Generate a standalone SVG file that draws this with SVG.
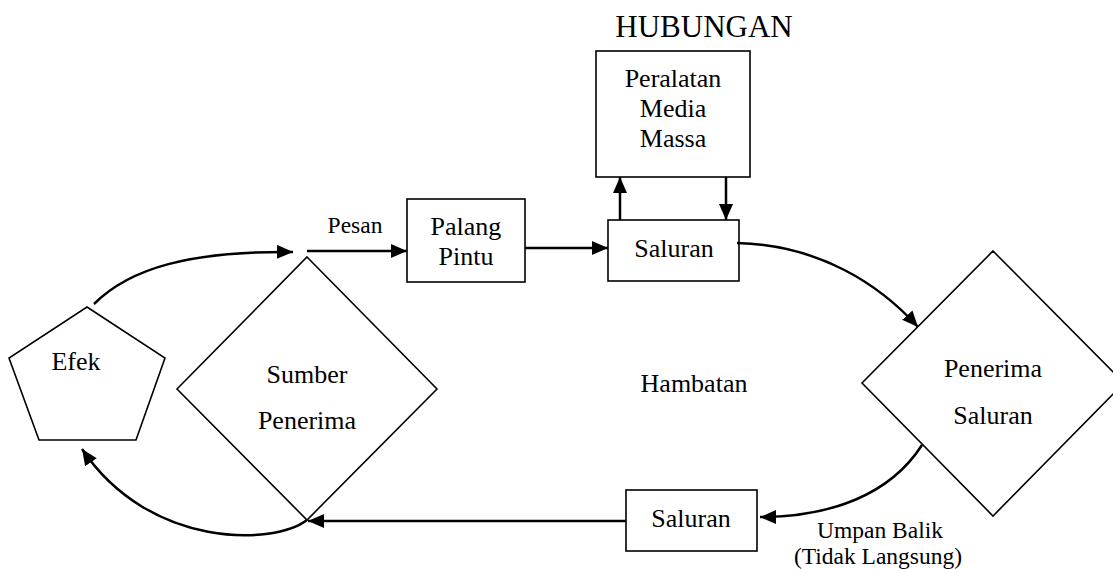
<svg xmlns="http://www.w3.org/2000/svg" width="1113" height="569" viewBox="0 0 1113 569">
<style>
.shape{fill:#fff;stroke:#000;stroke-width:1.6}
.conn{fill:none;stroke:#000;stroke-width:2.5}
text{font-family:"Liberation Serif","Times New Roman",serif;fill:#000;text-anchor:middle}
.t{font-size:26px}
.s{font-size:23.5px}
.h{font-size:31px}
</style>
<defs>
<marker id="arr" markerUnits="userSpaceOnUse" markerWidth="17" markerHeight="15" refX="16" refY="7" orient="auto">
<path d="M0,0 L16,7 L0,14 z" fill="#000"/>
</marker>
</defs>
<rect width="1113" height="569" fill="#fff"/>
<text class="h" x="704" y="37">HUBUNGAN</text>
<g id="efek">
<polygon class="shape" points="87,307 165,358 136,440 39,440 9,358"/>
<text class="t" x="76" y="370">Efek</text>
</g>
<g id="sumber">
<polygon class="shape" points="307,257 437,389 307,520 177,389"/>
<text class="t" x="307" y="383">Sumber</text>
<text class="t" x="307" y="429">Penerima</text>
</g>
<g id="palang">
<rect class="shape" x="407" y="199" width="118" height="83"/>
<text class="t" x="466" y="235">Palang</text>
<text class="t" x="466" y="265">Pintu</text>
</g>
<g id="peralatan">
<rect class="shape" x="596" y="51" width="154" height="126"/>
<text class="t" x="673" y="87">Peralatan</text>
<text class="t" x="673" y="117">Media</text>
<text class="t" x="673" y="147">Massa</text>
</g>
<g id="saluran1">
<rect class="shape" x="608" y="220" width="131" height="61"/>
<text class="t" x="674" y="257">Saluran</text>
</g>
<g id="penerima">
<polygon class="shape" points="993,251 1124,383 993,516 862,383"/>
<text class="t" x="993" y="377">Penerima</text>
<text class="t" x="993" y="424">Saluran</text>
</g>
<g id="saluran2">
<rect class="shape" x="626" y="490" width="131" height="61"/>
<text class="t" x="691" y="527">Saluran</text>
</g>
<g id="hambatan">
<text class="t" x="694" y="392">Hambatan</text>
</g>
<g id="connectors">
<path class="conn" d="M94,304 C130,268 190,251 293,252" marker-end="url(#arr)"/>
<path class="conn" d="M307,251 L407,251" marker-end="url(#arr)"/>
<path class="conn" d="M525,248 L608,248" marker-end="url(#arr)"/>
<path class="conn" d="M620,220 L620,177" marker-end="url(#arr)"/>
<path class="conn" d="M726,177 L726,220" marker-end="url(#arr)"/>
<path class="conn" d="M737,243 C820,245 880,285 918,327" marker-end="url(#arr)"/>
<path class="conn" d="M922,445 C890,495 830,517 760,517" marker-end="url(#arr)"/>
<path class="conn" d="M626,521 L308,521" marker-end="url(#arr)"/>
<path class="conn" d="M307,520 C275,545 150,550 82,449" marker-end="url(#arr)"/>
<text class="s" x="355" y="233">Pesan</text>
<text class="s" x="880" y="538">Umpan Balik</text>
<text class="s" x="878" y="564">(Tidak Langsung)</text>
</g>
</svg>
